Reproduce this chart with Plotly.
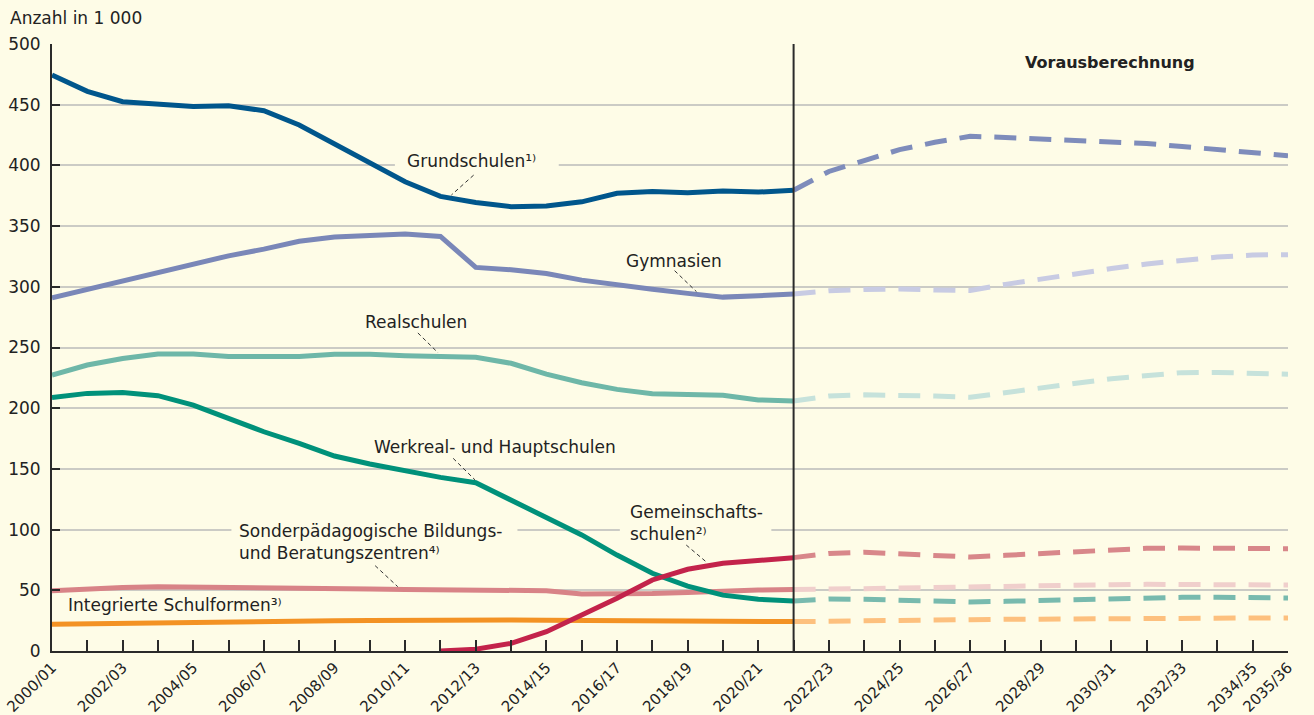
import plotly.graph_objects as go

# ---------------- data ----------------
years = ["2000/01", "2001/02", "2002/03", "2003/04", "2004/05", "2005/06", "2006/07",
         "2007/08", "2008/09", "2009/10", "2010/11", "2011/12", "2012/13", "2013/14",
         "2014/15", "2015/16", "2016/17", "2017/18", "2018/19", "2019/20", "2020/21",
         "2021/22", "2022/23", "2023/24", "2024/25", "2025/26", "2026/27", "2027/28",
         "2028/29", "2029/30", "2030/31", "2031/32", "2032/33", "2033/34", "2034/35",
         "2035/36"]
shown_ticks = ["2000/01", "2002/03", "2004/05", "2006/07", "2008/09", "2010/11", "2012/13",
               "2014/15", "2016/17", "2018/19", "2020/21", "2022/23", "2024/25", "2026/27",
               "2028/29", "2030/31", "2032/33", "2034/35", "2035/36"]
last_actual = "2021/22"

# observed values (2000/01 .. 2021/22), in 1 000
grund = [474.5, 461, 452.5, 450.5, 448.5, 449.2, 445, 433.3, 418, 402, 386.5, 374.5,
         369.5, 366, 366.6, 370, 377, 378.4, 377.5, 379, 378, 379.5]
gym = [291, 298, 304.5, 311, 318, 325.5, 331, 337.5, 341, 342.5, 343.5, 341.5,
       316, 314, 311, 305.5, 301.5, 298, 294.6, 291.5, 292.7, 294]
real = [227.3, 235.6, 241, 244.6, 244.6, 242.5, 242.5, 242.5, 244.4, 244.4, 243.3, 243,
        242, 237, 228, 221, 215.5, 212, 211.7, 210.6, 206.8, 206]
werk = [208.7, 212.2, 213, 210.3, 202.6, 191.6, 180.6, 171, 160.6, 154, 148.5, 143,
        138.6, 124.4, 110.7, 95.6, 79, 64, 53.5, 46, 42.6, 41.2]
gem = [None, None, None, None, None, None, None, None, None, None, None, 0,
       1.5, 6.3, 15.9, 29.6, 43.4, 58.5, 67.3, 72.2, 75, 76.9]
sond = [49.7, 51.5, 52.3, 53, 52.5, 52.3, 51.8, 51.5, 51.3, 51, 50.6, 50.3,
        50, 49.8, 49.7, 47, 47, 47.3, 48.2, 49.4, 50.2, 50.7]
integ = [22, 22.5, 23, 23.5, 24, 24.5, 25, 25, 25, 25.2, 25.4, 25.7,
         26, 25.6, 25.3, 25.1, 24.9, 24.7, 24.5, 24.3, 24.2, 24.2]

# projection values (2021/22 .. 2035/36)
grund_p = [379.5, 395, 404, 413, 419, 424, 423, 422, 420.8, 419.4, 418, 415.6, 412.8, 410.2, 408]
gym_p = [294, 296.8, 297.8, 298.2, 297.4, 297, 302, 306.5, 311, 315, 318.8, 322, 324.5, 326.2, 326.5]
real_p = [206, 210, 211, 211, 210, 209, 212.5, 217, 220.5, 224.3, 227.3, 229.3, 229.5, 228.8, 228]
werk_p = [41.2, 42.8, 42.6, 42, 41.2, 40.4, 40.9, 41.7, 42.6, 43.4, 43.9, 44.2, 44.2, 43.9, 43.7]
gem_p = [76.9, 80.4, 81.3, 80.2, 78.5, 77.4, 78.8, 80.2, 81.8, 83.2, 84.6, 84.8, 84.8, 84.6, 84.3]
sond_p = [50.7, 50.7, 51.3, 51.9, 52.5, 53, 53.5, 54.1, 54.4, 54.6, 54.9, 54.9, 54.6, 54.4, 54.4]
integ_p = [24.2, 24.7, 25, 25.3, 25.5, 25.8, 26.1, 26.4, 26.6, 26.9, 26.9, 27.2, 27.2, 27.2, 27.2]

# ---------------- styling ----------------
BG = "#FEFCE7"
TXT = "#222222"
FONT = "DejaVu Sans"

split = years.index(last_actual)
x_obs = list(range(split + 1))
x_proj = list(range(split, len(years)))

series = [
    # (observed, projection, solid colour, projection colour)
    (integ, integ_p, "#F39224", "#FDC07E"),
    (sond, sond_p, "#D88387", "#F0CFCC"),
    (werk, werk_p, "#00917A", "#78BAAE"),
    (gem, gem_p, "#C3234B", "#D8878A"),
    (real, real_p, "#6EB7A8", "#C6E2DB"),
    (gym, gym_p, "#7A87B8", "#C8CBE3"),
    (grund, grund_p, "#00568C", "#7E8CBB"),
]

fig = go.Figure()
for obs, proj, c_solid, c_proj in series:
    fig.add_trace(go.Scatter(x=x_obs, y=obs, mode="lines",
                             line=dict(color=c_solid, width=5),
                             connectgaps=False, hoverinfo="skip", showlegend=False))
    fig.add_trace(go.Scatter(x=x_proj, y=proj, mode="lines",
                             line=dict(color=c_proj, width=5, dash="22px,13px"),
                             hoverinfo="skip", showlegend=False))

tickvals = [years.index(t) for t in shown_ticks]

fig.update_layout(
    width=1314, height=715,
    margin=dict(l=52, r=26, t=44, b=64, autoexpand=False),
    paper_bgcolor=BG, plot_bgcolor=BG,
    font=dict(family=FONT, color=TXT, size=17),
    xaxis=dict(range=[0, len(years) - 1], tickmode="array",
               tickvals=tickvals, ticktext=shown_ticks, automargin=False,
               tickangle=-45, tickfont=dict(size=15, color=TXT),
               showgrid=False, zeroline=False,
               showline=True, linecolor="#2a2a2a", linewidth=2,
               ticks="inside", ticklen=11, tickwidth=1.5, tickcolor="#2a2a2a",
               minor=dict(tick0=0, dtick=1, ticks="inside", ticklen=11, tickwidth=1.5,
                          tickcolor="#2a2a2a", showgrid=False)),
    yaxis=dict(range=[0, 500], dtick=50, tickfont=dict(size=17, color=TXT),
               automargin=False,
               showgrid=True, gridcolor="#CBCBC5", gridwidth=1.5,
               zeroline=False, showline=True, linecolor="#2a2a2a", linewidth=2,
               ticks="inside", ticklen=8, tickwidth=1.5, tickcolor="#2a2a2a",
               ticklabelstandoff=6),
)

# vertical separator between observed data and projection
fig.add_shape(type="line", xref="x", yref="paper", x0=split, x1=split, y0=0, y1=1,
              line=dict(color="#2a2a2a", width=2), layer="above")

# gaps in the gridlines behind some labels (drawn between grid and traces)
for x0, x1, yc in [(9.71, 14.35, 400), (5.08, 13.18, 100), (16.08, 20.37, 100)]:
    fig.add_shape(type="rect", xref="x", yref="y", x0=x0, x1=x1, y0=yc - 5, y1=yc + 5,
                  fillcolor=BG, line=dict(width=0), layer="between")

# labels
def label(text, x, y, anchor="left", size=17, bold=False):
    fig.add_annotation(text=("<b>%s</b>" % text) if bold else text,
                       x=x, y=y, xref="x", yref="y", showarrow=False,
                       xanchor=anchor, yanchor="middle", align="left",
                       font=dict(size=size, color=TXT, family=FONT))

label("Grundschulen¹⁾", 10.0, 404)
label("Gymnasien", 16.2, 321)
label("Realschulen", 8.8, 271)
label("Werkreal- und Hauptschulen", 9.05, 168)
label("Sonderpädagogische Bildungs-<br>und Beratungszentren⁴⁾", 5.25, 90)
label("Gemeinschafts-<br>schulen²⁾", 16.3, 105.5)
label("Integrierte Schulformen³⁾", 0.4, 38)
label("Vorausberechnung", 29.95, 485, anchor="center", size=16, bold=True)

fig.add_annotation(text="Anzahl in 1 000", xref="paper", yref="paper",
                   x=-0.0356, y=1.043, xanchor="left", yanchor="middle",
                   showarrow=False, font=dict(size=17, color=TXT, family=FONT))

# leader lines from labels to lines
leaders = [
    ((11.94, 392), (11.31, 375.6)),
    ((17.63, 313.3), (18.25, 296)),
    ((10.36, 262), (10.93, 245.7)),
    ((11.36, 158.7), (11.98, 140.9)),
    ((9.15, 70.3), (9.79, 53)),
    ((17.96, 87.3), (18.55, 72.8)),
]
for (xa, ya), (xb, yb) in leaders:
    fig.add_shape(type="line", xref="x", yref="y", x0=xa, y0=ya, x1=xb, y1=yb,
                  line=dict(color="#333333", width=1, dash="4px,3px"), layer="above")

fig.write_html("out.html", config={"displayModeBar": False},
               post_script="document.body.style.margin='0';")
